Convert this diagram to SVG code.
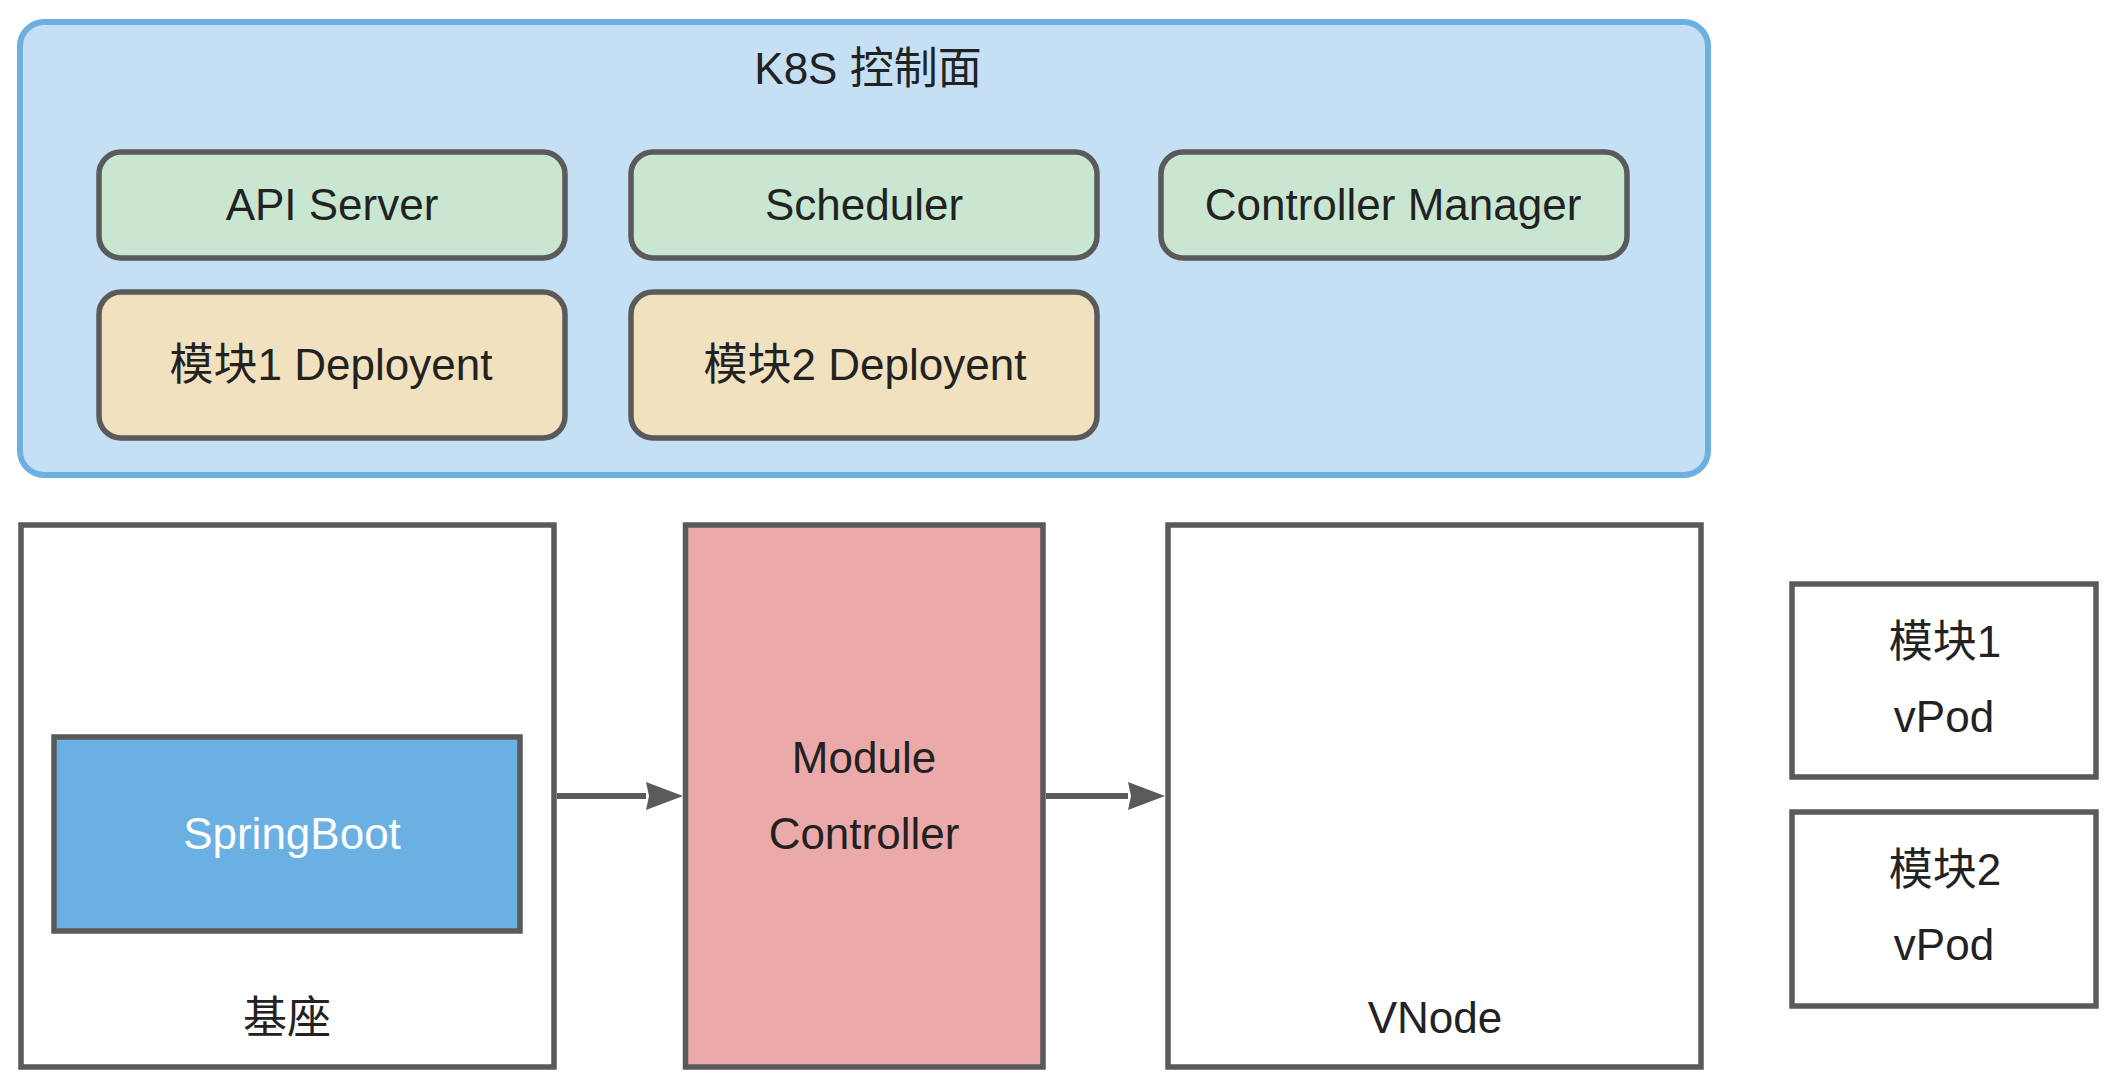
<svg xmlns="http://www.w3.org/2000/svg" width="2126" height="1082" viewBox="0 0 2126 1082">
  <style>
    .t { font-family: "Liberation Sans", "Noto Sans CJK SC", sans-serif; font-size: 44px; fill: #222222; text-anchor: middle; }
    .w { fill: #ffffff; }
    .box { stroke: #5a5a5a; stroke-width: 5.5; }
    .green { fill: #c9e6d1; }
    .tan { fill: #f1e1be; }
    .plain { fill: #ffffff; }
    .conn { stroke: #5a5a5a; stroke-width: 6; fill: none; }
  </style>
  <defs>
    <marker id="arrow" markerUnits="userSpaceOnUse" markerWidth="38" markerHeight="28" viewBox="0 0 38 28" refX="0" refY="14" orient="auto">
      <path d="M0,0 L37,14 L0,28 L3,14 Z" fill="#5a5a5a"/>
    </marker>
  </defs>
  <rect width="2126" height="1082" fill="#ffffff"/>

  <g id="k8s-control-plane">
    <rect x="20" y="22" width="1688" height="453" rx="24" ry="24" fill="#c5e0f4" stroke="#6cb0e2" stroke-width="6"/>
    <text class="t" x="868" y="84">K8S 控制面</text>
  </g>

  <g id="api-server">
    <rect class="box green" x="99" y="152" width="466" height="106" rx="22" ry="22"/>
    <text class="t" x="332" y="220">API Server</text>
  </g>
  <g id="scheduler">
    <rect class="box green" x="631" y="152" width="466" height="106" rx="22" ry="22"/>
    <text class="t" x="864" y="220">Scheduler</text>
  </g>
  <g id="controller-manager">
    <rect class="box green" x="1161" y="152" width="466" height="106" rx="22" ry="22"/>
    <text class="t" x="1393" y="220">Controller Manager</text>
  </g>
  <g id="module1-deployment">
    <rect class="box tan" x="99" y="292" width="466" height="146" rx="22" ry="22"/>
    <text class="t" x="331" y="380">模块1 Deployent</text>
  </g>
  <g id="module2-deployment">
    <rect class="box tan" x="631" y="292" width="466" height="146" rx="22" ry="22"/>
    <text class="t" x="865" y="380">模块2 Deployent</text>
  </g>

  <g id="base">
    <rect class="box plain" x="21" y="525" width="533" height="542"/>
    <text class="t" x="287" y="1033">基座</text>
  </g>
  <g id="springboot">
    <rect class="box" x="54" y="737" width="466" height="194" fill="#6ab0e2"/>
    <text class="t w" x="292" y="849">SpringBoot</text>
  </g>
  <g id="module-controller">
    <rect class="box" x="685.5" y="525" width="357.5" height="542" fill="#eba9a9"/>
    <text class="t" x="864" y="773">Module</text>
    <text class="t" x="864" y="849">Controller</text>
  </g>
  <g id="vnode">
    <rect class="box plain" x="1168" y="525" width="533" height="542"/>
    <text class="t" x="1435" y="1033">VNode</text>
  </g>
  <g id="vpod1">
    <rect class="box plain" x="1792" y="584" width="304" height="193"/>
    <text class="t" x="1945" y="657">模块1</text>
    <text class="t" x="1944" y="732">vPod</text>
  </g>
  <g id="vpod2">
    <rect class="box plain" x="1792" y="812" width="304" height="194"/>
    <text class="t" x="1945" y="885">模块2</text>
    <text class="t" x="1944" y="960">vPod</text>
  </g>

  <g id="connectors">
    <line class="conn" x1="557" y1="796" x2="646" y2="796" marker-end="url(#arrow)"/>
    <line class="conn" x1="1046" y1="796" x2="1128" y2="796" marker-end="url(#arrow)"/>
  </g>
</svg>
